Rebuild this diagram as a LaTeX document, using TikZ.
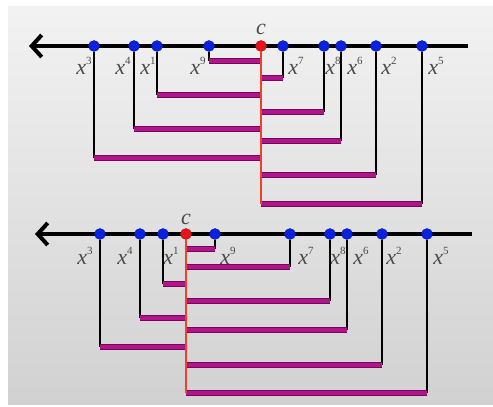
\documentclass[tikz,border=0pt]{standalone}
\usepackage{fontspec}
\setmainfont{Liberation Serif}
\usetikzlibrary{arrows.meta}

\definecolor{ptblue}{HTML}{0A22E0}
\definecolor{ptred}{HTML}{E8141A}
\definecolor{barfill}{HTML}{B3148D}
\definecolor{barline}{HTML}{6E0A56}
\definecolor{linered}{HTML}{F0402A}
\definecolor{lblgray}{HTML}{4A4A4A}

\newcommand{\xlab}[1]{\textit{x}\raisebox{10pt}{\fontsize{11}{11}\selectfont #1}}

\tikzset{
  axis/.style={line width=4pt, -{Straight Barb[length=10pt,width=22pt]}},
  dot/.style={circle, fill=ptblue, draw=ptblue!70!black, line width=0.4pt, inner sep=0pt, minimum size=11pt},
  cdot/.style={dot, fill=ptred, draw=ptred!70!black},
  stem/.style={line width=1.4pt, black},
  bar/.style={line width=4.6pt, barfill, preaction={draw=barline, line width=5.8pt}},
  split/.style={line width=1.6pt, linered},
  lbl/.style={inner sep=0pt, text=lblgray, font=\fontsize{22}{22}\selectfont}
}

\begin{document}
\begin{tikzpicture}[x=1pt, y=-1pt]
    \useasboundingbox (0,0) rectangle (493,407);
    % Background
    \fill[white] (0,0) rectangle (493,407);
    \shade[top color=black!5, bottom color=black!18] (8,6) rectangle (493,404);

    % Top number line
    \draw[axis] (468,46) -- (29,46);
    \node[cdot] (tc) at (261,46) {};
    \node[lbl] (tcl) at (261,29) {\textit{c}};
    \foreach \i/\x/\y/\lx in {3/94/158/84, 4/134/129/123, 1/157/95/148, 9/209/61/198,
        7/283/78/296, 8/324/112/333, 6/341/141/355, 2/376/175/389, 5/422/204/436} {
      \node[dot] (t\i) at (\x,46) {};
      \node[lbl] (tl\i) at (\lx,66) {\xlab{\i}};
      \coordinate (tb\i) at (\x,\y);
      \draw[stem] (t\i) -- (tb\i);
      \draw[bar] (tb\i) -- (tb\i -| tc);
    }
    \coordinate (tend) at (261,204);
    \draw[split] (tc) -- (tend);

    % Bottom number line
    \draw[axis] (472,234) -- (35,234);
    \node[cdot] (bc) at (186,234) {};
    \node[lbl] (bcl) at (186,219) {\textit{c}};
    \foreach \i/\x/\y/\lx in {3/100/347/85, 4/140/318/125, 1/163/284/171, 9/215/249/228,
        7/290/267/306, 8/330/301/338, 6/347/330/361, 2/382/365/394, 5/427/393/441} {
      \node[dot] (b\i) at (\x,234) {};
      \node[lbl] (bl\i) at (\lx,256) {\xlab{\i}};
      \coordinate (bb\i) at (\x,\y);
      \draw[stem] (b\i) -- (bb\i);
      \draw[bar] (bb\i) -- (bb\i -| bc);
    }
    \coordinate (bend) at (186,393);
    \draw[split] (bc) -- (bend);
\end{tikzpicture}
\end{document}
